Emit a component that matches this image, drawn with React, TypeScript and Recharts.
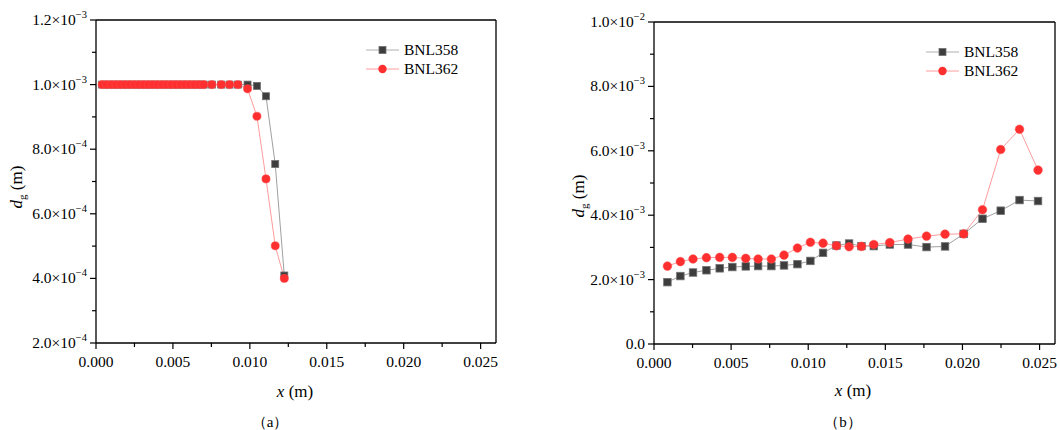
import React from "react";
import { LineChart, Line, XAxis, YAxis, ReferenceLine } from "recharts";

const FONT = "'Liberation Serif', 'DejaVu Serif', serif";

// panel (a)
const xA = [
  0.0004, 0.0007, 0.001, 0.0013, 0.0016, 0.0019, 0.0022, 0.0025, 0.0028, 0.0031, 0.0034, 0.0037,
  0.004, 0.0043, 0.0046, 0.0049, 0.0052, 0.0055, 0.0058, 0.0061, 0.0064, 0.0067, 0.007,
  0.00753, 0.00814, 0.00868, 0.00922, 0.00985, 0.01046, 0.01105, 0.01165, 0.01224,
];
const bnl358A = [
  1.0e-3, 1.0e-3, 1.0e-3, 1.0e-3, 1.0e-3, 1.0e-3, 1.0e-3, 1.0e-3, 1.0e-3, 1.0e-3, 1.0e-3, 1.0e-3,
  1.0e-3, 1.0e-3, 1.0e-3, 1.0e-3, 1.0e-3, 1.0e-3, 1.0e-3, 1.0e-3, 1.0e-3, 1.0e-3, 1.0e-3,
  1.0e-3, 1.0e-3, 1.0e-3, 1.0e-3, 1.0e-3, 0.996e-3, 0.964e-3, 0.754e-3, 0.409e-3,
];
const bnl362A = [
  1.0e-3, 1.0e-3, 1.0e-3, 1.0e-3, 1.0e-3, 1.0e-3, 1.0e-3, 1.0e-3, 1.0e-3, 1.0e-3, 1.0e-3, 1.0e-3,
  1.0e-3, 1.0e-3, 1.0e-3, 1.0e-3, 1.0e-3, 1.0e-3, 1.0e-3, 1.0e-3, 1.0e-3, 1.0e-3, 1.0e-3,
  1.0e-3, 1.0e-3, 1.0e-3, 1.0e-3, 0.987e-3, 0.902e-3, 0.708e-3, 0.501e-3, 0.4e-3,
];

// panel (b)
const xB = [
  0.00087, 0.00171, 0.00253, 0.0034, 0.00426, 0.00508, 0.00595, 0.00675, 0.00761, 0.00843,
  0.0093, 0.01014, 0.01096, 0.01183, 0.01265, 0.01345, 0.01425, 0.01529, 0.01647, 0.01767,
  0.01887, 0.02008, 0.0213, 0.02248, 0.0237, 0.0249,
];
const bnl358B = [
  1.92e-3, 2.11e-3, 2.22e-3, 2.29e-3, 2.35e-3, 2.39e-3, 2.41e-3, 2.42e-3, 2.42e-3, 2.44e-3,
  2.48e-3, 2.58e-3, 2.83e-3, 3.06e-3, 3.12e-3, 3.04e-3, 3.04e-3, 3.09e-3, 3.09e-3, 3.01e-3,
  3.03e-3, 3.42e-3, 3.89e-3, 4.14e-3, 4.47e-3, 4.44e-3,
];
const bnl362B = [
  2.42e-3, 2.56e-3, 2.64e-3, 2.68e-3, 2.69e-3, 2.69e-3, 2.66e-3, 2.64e-3, 2.64e-3, 2.76e-3,
  2.98e-3, 3.16e-3, 3.13e-3, 3.05e-3, 3.02e-3, 3.03e-3, 3.09e-3, 3.15e-3, 3.26e-3, 3.35e-3,
  3.41e-3, 3.42e-3, 4.17e-3, 6.04e-3, 6.67e-3, 5.4e-3,
];

// ticks
const xTicks = [0, 0.0025, 0.005, 0.0075, 0.01, 0.0125, 0.015, 0.0175, 0.02, 0.0225, 0.025];
const xMajor = [0, 0.005, 0.01, 0.015, 0.02, 0.025];
const yTicksA = [0.0002, 0.0003, 0.0004, 0.0005, 0.0006, 0.0007, 0.0008, 0.0009, 0.001, 0.0011, 0.0012];
const yMajorA = [0.0002, 0.0004, 0.0006, 0.0008, 0.001, 0.0012];
const yTicksB = [0, 0.001, 0.002, 0.003, 0.004, 0.005, 0.006, 0.007, 0.008, 0.009, 0.01];
const yMajorB = [0, 0.002, 0.004, 0.006, 0.008, 0.01];

const SERIES = ["BNL358", "BNL362"];

const toRows = (xs: number[], ys: number[]) => xs.map((x, i) => ({ x, y: ys[i] }));

const isIn = (v: number, list: number[]) => list.some((m) => Math.abs(m - v) < 1e-9);

const xTick = (props: any) => {
  const { x, y, payload } = props;
  const v = payload.value;
  const major = isIn(v, xMajor);
  return (
    <g>
      <line x1={x} x2={x} y1={y} y2={y + (major ? 6 : 4)} stroke="#000" strokeWidth={1.2} />
      {major && (
        <text x={x} y={y + 24} textAnchor="middle" fontSize={15.5} style={{ fontFamily: FONT }} fill="#000">
          {v.toFixed(3)}
        </text>
      )}
    </g>
  );
};

const makeYTick = (majors: number[]) => (props: any) => {
  const { x, y, payload } = props;
  const v = payload.value;
  const major = isIn(v, majors);
  let label: React.ReactNode = null;
  if (major) {
    if (Math.abs(v) < 1e-12) {
      label = "0.0";
    } else {
      const e = Math.floor(Math.log10(v) + 1e-9);
      const m = (v / Math.pow(10, e)).toFixed(1);
      label = (
        <>
          {m}×10
          <tspan dy={-7} fontSize={10.5}>
            {"\u2212" + String(-e)}
          </tspan>
        </>
      );
    }
  }
  return (
    <g>
      <line x1={x - (major ? 6 : 4)} x2={x} y1={y} y2={y} stroke="#000" strokeWidth={1.2} />
      {major && (
        <text x={x - 9} y={y + 5} textAnchor="end" fontSize={15.5} style={{ fontFamily: FONT }} fill="#000">
          {label}
        </text>
      )}
    </g>
  );
};

const squareDot = (size: number) => (p: any) => (
  <rect
    key={`sq-${p.index}`}
    x={p.cx - size / 2}
    y={p.cy - size / 2}
    width={size}
    height={size}
    fill="#3d3d3d"
    stroke="#707070"
    strokeWidth={0.8}
  />
);

function Panel({
  xs,
  s1,
  s2,
  yDomain,
  yTicks,
  yMajor,
  yAxisWidth,
  margin,
  marker,
}: {
  xs: number[];
  s1: number[];
  s2: number[];
  yDomain: [number, number];
  yTicks: number[];
  yMajor: number[];
  yAxisWidth: number;
  margin: { top: number; right: number; bottom: number; left: number };
  marker: number;
}) {
  return (
    <LineChart width={530} height={430} margin={margin} style={{ fontFamily: FONT }}>
      <XAxis
        dataKey="x"
        type="number"
        domain={[0, 0.026]}
        ticks={xTicks}
        interval={0}
        height={30}
        axisLine={{ stroke: "#000", strokeWidth: 1.3 }}
        tickLine={false}
        tickSize={0}
        tickMargin={0}
        tick={xTick}
      />
      <YAxis
        type="number"
        domain={yDomain}
        ticks={yTicks}
        interval={0}
        width={yAxisWidth}
        axisLine={{ stroke: "#000", strokeWidth: 1.3 }}
        tickLine={false}
        tickSize={0}
        tickMargin={0}
        tick={makeYTick(yMajor)}
      />
      <ReferenceLine y={yDomain[1]} stroke="#000" strokeWidth={1.3} />
      <ReferenceLine x={0.026} stroke="#000" strokeWidth={1.3} />
      <Line
        data={toRows(xs, s1)}
        dataKey="y"
        name={SERIES[0]}
        type="linear"
        stroke="#a0a0a0"
        strokeWidth={1}
        dot={squareDot(marker)}
        isAnimationActive={false}
      />
      <Line
        data={toRows(xs, s2)}
        dataKey="y"
        name={SERIES[1]}
        type="linear"
        stroke="#ff9c9c"
        strokeWidth={1}
        dot={{ r: marker / 2 + 0.6, fill: "#ff2f2f", stroke: "#ff4a4a", strokeWidth: 0.5 }}
        isAnimationActive={false}
      />
    </LineChart>
  );
}

function LegendBox({ x, y }: { x: number; y: number }) {
  return (
    <g style={{ fontFamily: FONT }} fontSize={15.5}>
      <line x1={x} x2={x + 33} y1={y} y2={y} stroke="#b0b0b0" strokeWidth={1} />
      <rect x={x + 13} y={y - 3.5} width={7} height={7} fill="#3d3d3d" stroke="#707070" strokeWidth={0.8} />
      <text x={x + 38} y={y + 5}>{SERIES[0]}</text>
      <line x1={x} x2={x + 33} y1={y + 19} y2={y + 19} stroke="#ff9c9c" strokeWidth={1} />
      <circle cx={x + 16.5} cy={y + 19} r={4.2} fill="#ff2f2f" />
      <text x={x + 38} y={y + 24}>{SERIES[1]}</text>
    </g>
  );
}

function YTitle({ cx, cy }: { cx: number; cy: number }) {
  const bx = cx + 6;
  return (
    <text
      x={bx}
      y={cy}
      transform={`rotate(-90 ${bx} ${cy})`}
      textAnchor="middle"
      style={{ fontFamily: FONT }}
      fontSize={17}
    >
      <tspan fontStyle="italic">d</tspan>
      <tspan fontSize={11} dy={4}>g</tspan>
      <tspan dy={-4}> (m)</tspan>
    </text>
  );
}

export default function App() {
  return (
    <div
      style={{
        position: "absolute",
        left: 0,
        top: 0,
        width: 1060,
        height: 430,
        background: "#fff",
        overflow: "hidden",
        fontFamily: FONT,
      }}
    >
      <div style={{ position: "absolute", left: 0, top: 0 }}>
        <Panel
          xs={xA}
          s1={bnl358A}
          s2={bnl362A}
          yDomain={[0.0002, 0.0012]}
          yTicks={yTicksA}
          yMajor={yMajorA}
          yAxisWidth={96}
          margin={{ top: 20, right: 34, bottom: 57, left: 0 }}
          marker={7}
        />
      </div>
      <div style={{ position: "absolute", left: 530, top: 0 }}>
        <Panel
          xs={xB}
          s1={bnl358B}
          s2={bnl362B}
          yDomain={[0, 0.01]}
          yTicks={yTicksB}
          yMajor={yMajorB}
          yAxisWidth={124}
          margin={{ top: 22, right: 5, bottom: 56, left: 0 }}
          marker={7.5}
        />
      </div>
      <svg
        width={1060}
        height={430}
        style={{ position: "absolute", left: 0, top: 0, pointerEvents: "none", fontFamily: FONT }}
      >
        <LegendBox x={366} y={50} />
        <LegendBox x={926} y={52} />
        <YTitle cx={16} cy={187} />
        <YTitle cx={578} cy={196} />
        <text x={295} y={397} textAnchor="middle" fontSize={17}>
          <tspan fontStyle="italic">x</tspan> (m)
        </text>
        <text x={853} y={396} textAnchor="middle" fontSize={17}>
          <tspan fontStyle="italic">x</tspan> (m)
        </text>
        <text x={270} y={427} textAnchor="middle" fontSize={15}>
          （a）
        </text>
        <text x={843} y={427} textAnchor="middle" fontSize={15}>
          （b）
        </text>
      </svg>
    </div>
  );
}
